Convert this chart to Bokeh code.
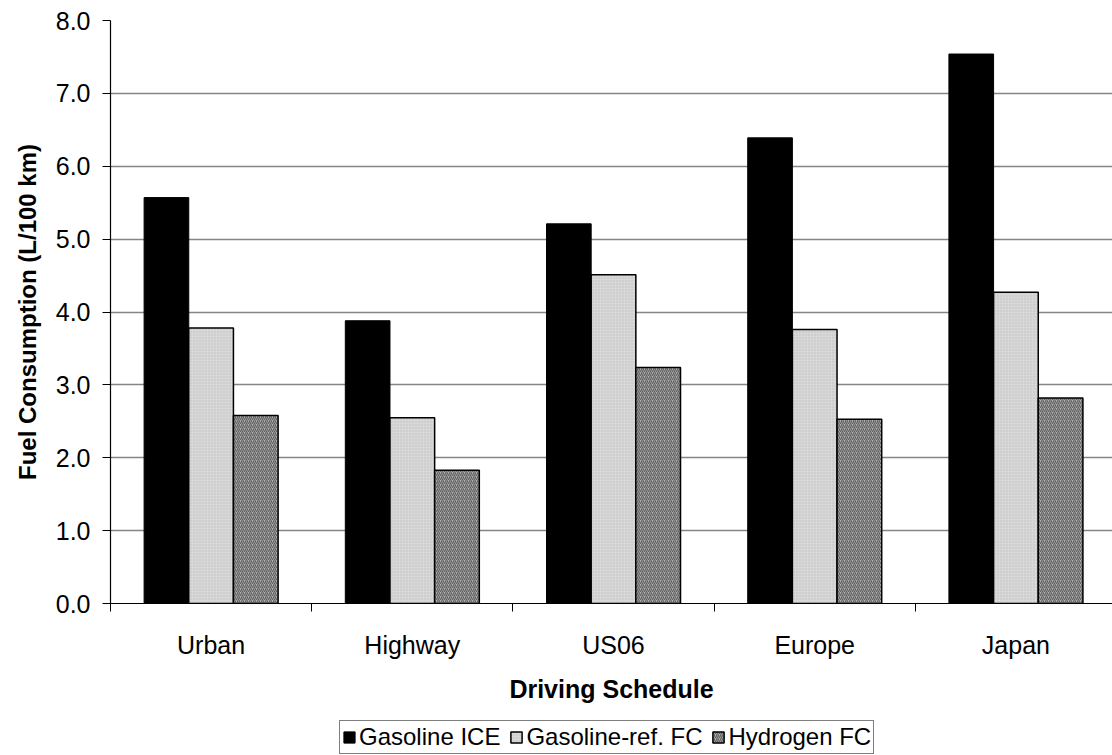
from bokeh.plotting import figure
from bokeh.models import ColumnDataSource, FixedTicker, Legend, LegendItem, Range1d
from bokeh.layouts import column
from bokeh.transform import dodge
from bokeh.embed import file_html
from bokeh.resources import INLINE

categories = ["Urban", "Highway", "US06", "Europe", "Japan"]
gasoline_ice = [5.57, 3.88, 5.21, 6.39, 7.54]
gasoline_ref_fc = [3.78, 2.55, 4.51, 3.76, 4.27]
hydrogen_fc = [2.58, 1.83, 3.24, 2.53, 2.82]
series_names = ["Gasoline ICE", "Gasoline-ref. FC", "Hydrogen FC"]
y_ticks = [0, 1, 2, 3, 4, 5, 6, 7, 8]

xc = [i + 0.5 for i in range(len(categories))]
src = ColumnDataSource(dict(x=xc, ice=gasoline_ice, ref=gasoline_ref_fc, h2=hydrogen_fc))

FONT = "Liberation Sans"
FS = "25px"

STYLES = [
    dict(fill_color="black", line_color="black", line_width=1),
    dict(fill_color="#d8d8d8", line_color="black", line_width=1.5,
         hatch_pattern="dot", hatch_color="#bdbdbd", hatch_scale=3, hatch_weight=1),
    dict(fill_color="#b0b0b0", line_color="black", line_width=1.5,
         hatch_pattern="right_diagonal_line", hatch_color="#606060", hatch_scale=4, hatch_weight=1.2),
]

p = figure(frame_width=1002, frame_height=583, output_backend="svg", toolbar_location=None,
           x_range=Range1d(0, 4.98), y_range=Range1d(0, 8),
           min_border_left=110, min_border_right=0, min_border_top=20, min_border_bottom=112)
p.outline_line_color = None
p.background_fill_color = "white"
p.border_fill_color = "white"

bw = 0.222
for col, off, st in zip(["ice", "ref", "h2"], [-bw, 0, bw], STYLES):
    p.vbar(x=dodge("x", off, range=p.x_range), top=col, width=bw, source=src, **st)

# grid
p.xgrid.grid_line_color = None
p.ygrid.ticker = FixedTicker(ticks=y_ticks[1:])
p.ygrid.grid_line_color = "#858585"
p.ygrid.grid_line_width = 1.5

# y axis
p.yaxis.ticker = FixedTicker(ticks=y_ticks)
p.yaxis.major_label_overrides = {t: f"{t:.1f}" for t in y_ticks}
p.yaxis.axis_label = "Fuel Consumption (L/100 km)"
p.yaxis.axis_label_text_font = FONT
p.yaxis.axis_label_text_font_style = "bold"
p.yaxis.axis_label_text_font_size = "24px"
p.yaxis.axis_label_text_color = "black"
p.yaxis.axis_label_standoff = 12
p.yaxis.major_label_text_font = FONT
p.yaxis.major_label_text_font_size = FS
p.yaxis.major_label_text_color = "black"
p.yaxis.major_tick_in = 0
p.yaxis.major_tick_out = 8
p.yaxis.minor_tick_line_color = None
p.yaxis.axis_line_color = "black"
p.yaxis.axis_line_width = 1.2
p.yaxis.major_tick_line_color = "black"
p.yaxis.major_label_standoff = 12

# x axis
p.xaxis.ticker = FixedTicker(ticks=xc, minor_ticks=[0, 1, 2, 3, 4, 5])
p.xaxis.major_label_overrides = {x: c for x, c in zip(xc, categories)}
p.xaxis.major_tick_line_color = None
p.xaxis.major_tick_out = 0
p.xaxis.major_tick_in = 0
p.xaxis.minor_tick_in = 0
p.xaxis.minor_tick_out = 8
p.xaxis.minor_tick_line_color = "black"
p.xaxis.axis_line_color = "black"
p.xaxis.axis_line_width = 1.2
p.xaxis.major_label_standoff = 19
p.xaxis.major_label_text_font = FONT
p.xaxis.major_label_text_font_size = FS
p.xaxis.major_label_text_color = "black"
p.xaxis.axis_label = "Driving Schedule"
p.xaxis.axis_label_text_font = FONT
p.xaxis.axis_label_text_font_style = "bold"
p.xaxis.axis_label_text_font_size = FS
p.xaxis.axis_label_text_color = "black"
p.xaxis.axis_label_standoff = 13

# legend strip (separate figure below the chart); its renderers lie outside its visible range
p2 = figure(frame_width=1112, frame_height=40, output_backend="svg", toolbar_location=None,
            x_range=Range1d(-20, -19), y_range=Range1d(0, 1),
            min_border_left=0, min_border_right=0, min_border_top=0, min_border_bottom=0)
p2.axis.visible = False
p2.grid.grid_line_color = None
p2.outline_line_color = None
p2.border_fill_color = "white"
items = []
for name, col, st in zip(series_names, ["ice", "ref", "h2"], STYLES):
    r = p2.vbar(x="x", top=col, width=bw, source=src, **st)
    items.append(LegendItem(label=name, renderers=[r]))

legend = Legend(items=items, orientation="horizontal", location=(339, 1))
legend.label_text_font = FONT
legend.label_text_font_size = "24px"
legend.label_text_color = "black"
legend.glyph_width = 14
legend.glyph_height = 14
legend.label_standoff = 3
legend.spacing = 9
legend.padding = 2
legend.margin = 0
legend.border_line_color = "black"
legend.border_line_width = 1
legend.label_height = 20
p2.add_layout(legend, "center")

layout = column(p, p2, spacing=0)
open("out.html", "w").write(file_html(layout, INLINE))
